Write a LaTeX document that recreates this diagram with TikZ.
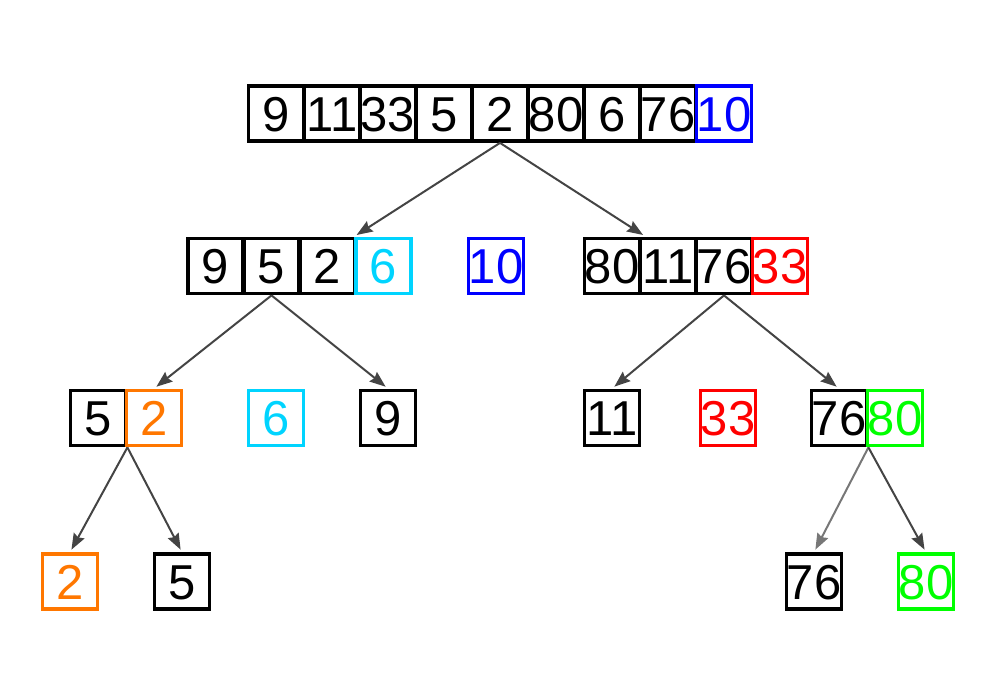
\documentclass[tikz,border=0pt]{standalone}
\usepackage{fontspec}
\setmainfont{Liberation Sans}
\usetikzlibrary{arrows.meta,calc}
\definecolor{cblue}{RGB}{0,0,255}
\definecolor{ccyan}{RGB}{0,212,255}
\definecolor{cred}{RGB}{255,0,0}
\definecolor{corange}{RGB}{255,119,0}
\definecolor{cgreen}{RGB}{0,255,0}
\definecolor{arrowgray}{RGB}{68,68,68}
\definecolor{arrowlight}{RGB}{119,119,119}
\begin{document}
\begin{tikzpicture}[x=1pt,y=-1pt,
  cell/.style={draw=black, line width=3.8pt, minimum width=55pt, minimum height=55pt,
    inner sep=0pt, text height=35.2pt, text depth=0pt, font=\fontsize{49}{49}\selectfont},
  colcell/.style={cell, draw=#1, text=#1},
  link/.style={draw=arrowgray, line width=2pt,
    -{Stealth[length=16pt,width=12pt,inset=2pt]}, shorten >=3pt},
  lightlink/.style={link, draw=arrowlight}]
\useasboundingbox (0,0) rectangle (1000,685);
% row 1
\node[cell] (r1c1) at (276,113.5) {9};
\node[cell] (r1c2) at (332,113.5) {11};
\node[cell] (r1c3) at (388,113.5) {33};
\node[cell] (r1c4) at (444,113.5) {5};
\node[cell] (r1c5) at (500,113.5) {2};
\node[cell] (r1c6) at (556,113.5) {80};
\node[cell] (r1c7) at (612,113.5) {6};
\node[cell] (r1c8) at (668,113.5) {76};
\node[colcell=cblue] (r1c9) at (724,113.5) {10};
% row 2
\node[cell] (r2a1) at (215.5,266) {9};
\node[cell] (r2a2) at (271.5,266) {5};
\node[cell] (r2a3) at (327.5,266) {2};
\node[colcell=ccyan] (r2a4) at (383.5,266) {6};
\node[colcell=cblue] (r2b) at (496,266) {10};
\node[cell] (r2c1) at (612,266) {80};
\node[cell] (r2c2) at (668,266) {11};
\node[cell] (r2c3) at (724,266) {76};
\node[colcell=cred] (r2c4) at (780,266) {33};
% row 3
\node[cell] (r3a1) at (98,418) {5};
\node[colcell=corange] (r3a2) at (154,418) {2};
\node[colcell=ccyan] (r3b) at (276,418) {6};
\node[cell] (r3c) at (388,418) {9};
\node[cell] (r3d) at (612,418) {11};
\node[colcell=cred] (r3e) at (728,418) {33};
\node[cell] (r3f1) at (839,418) {76};
\node[colcell=cgreen] (r3f2) at (895,418) {80};
% row 4
\node[colcell=corange] (r4a) at (70,581.7) {2};
\node[cell] (r4b) at (182,581.7) {5};
\node[cell] (r4c) at (814,581.7) {76};
\node[colcell=cgreen] (r4d) at (926,581.7) {80};
% connectors
\coordinate (t1) at ($(r2c2.north west)+(7,0)$);
\draw[link] (r1c5.south) -- (r2a4.north west);
\draw[link] (r1c5.south) -- (t1);
\draw[link] (r2a2.south) -- (r3a2.north);
\draw[link] (r2a2.south) -- (r3c.north);
\draw[link] (r2c3.south) -- (r3d.north);
\draw[link] (r2c3.south) -- (r3f1.north);
\draw[link] (r3a1.south east) -- (r4a.north);
\draw[link] (r3a1.south east) -- (r4b.north);
\draw[lightlink] (r3f1.south east) -- (r4c.north);
\draw[link] (r3f1.south east) -- (r4d.north);
\end{tikzpicture}
\end{document}
